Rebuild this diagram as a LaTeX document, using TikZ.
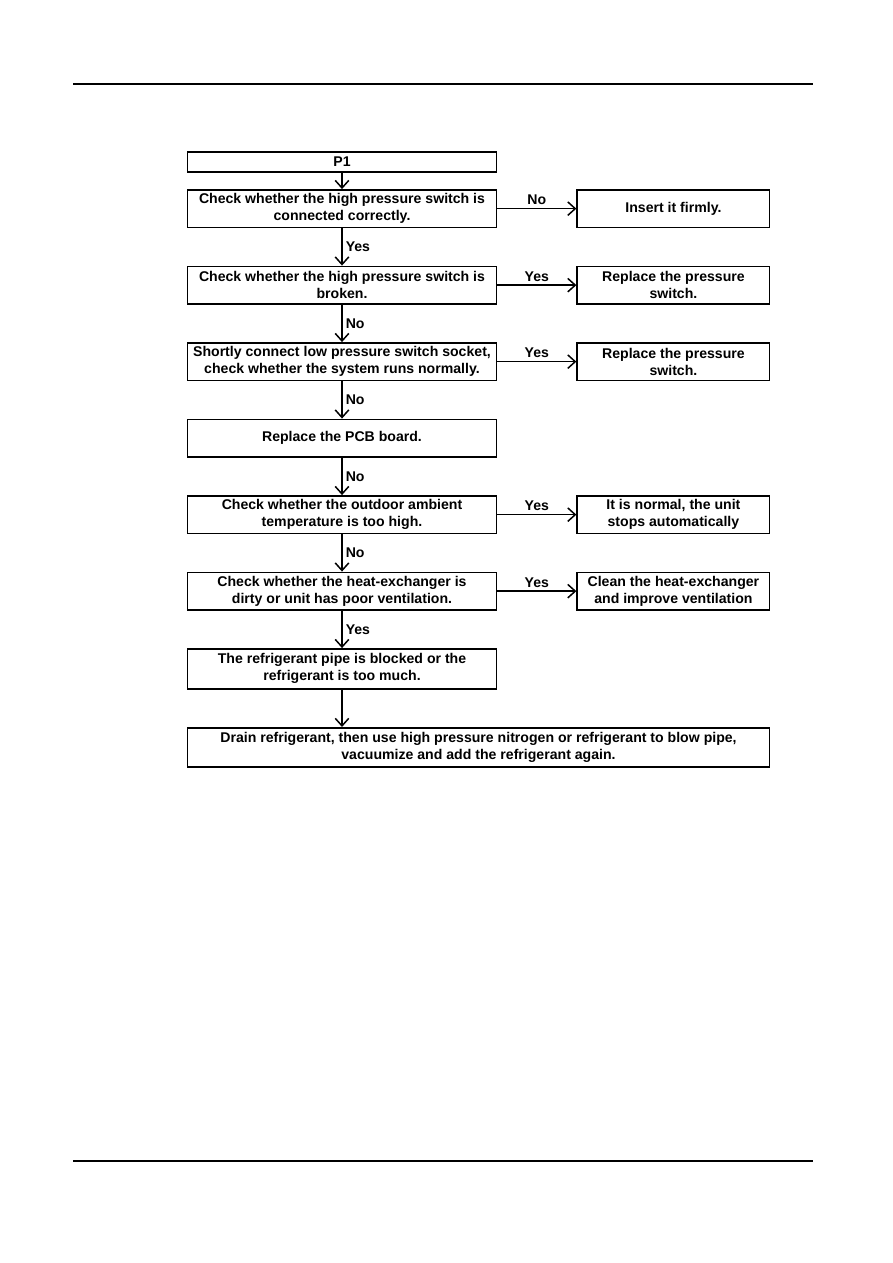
\documentclass[tikz,border=0pt]{standalone}
\usepackage{fontspec}
\setmainfont{Liberation Sans}
\usepackage{tikz}
\usetikzlibrary{arrows.meta,positioning}

\begin{document}
\begin{tikzpicture}[node distance=24.9pt, auto,
  block/.style={rectangle, draw, line width=1.1pt, minimum height=25pt, minimum width=206pt, inner sep=1pt, align=center, font=\bfseries\fontsize{9.4}{11.3}\selectfont},
  side/.style={block, minimum width=128.3pt},
  arrow/.style={-{Straight Barb[length=5pt,width=9pt]}, line width=1pt},
  lbl/.style={font=\bfseries\fontsize{9.4}{11.3}\selectfont, inner sep=2pt}]
\useasboundingbox (0,0) rectangle (595.3pt,-842pt);
\draw[line width=0.7pt] (48.7pt,-56pt) -- (542pt,-56pt);
\draw[line width=1.4pt] (48.7pt,-774pt) -- (542pt,-774pt);
\node[block, minimum height=13pt] (p1) at (228pt,-108pt) {P1};
\node[block, below=11pt of p1] (b1) {Check whether the high pressure switch is\\ connected correctly.};
\node[block, below=of b1] (b2) {Check whether the high pressure switch is\\ broken.};
\node[block, below=of b2] (b3) {Shortly connect low pressure switch socket,\\ check whether the system runs normally.};
\node[block, below=of b3] (b4) {Replace the PCB board.};
\node[block, below=of b4] (b5) {Check whether the outdoor ambient\\ temperature is too high.};
\node[block, below=of b5] (b6) {Check whether the heat-exchanger is\\ dirty or unit has poor ventilation.};
\node[block, minimum height=26.6pt, below=of b6] (b7) {The refrigerant pipe is blocked or the\\ refrigerant is too much.};
\node[block, minimum width=388pt, minimum height=26.3pt, below right=24.9pt and 0pt of b7.south west] (b8) {Drain refrigerant, then use high pressure nitrogen or refrigerant to blow pipe,\\ vacuumize and add the refrigerant again.};
\node[side, right=52.7pt of b1] (r1) {Insert it firmly.};
\node[side, right=52.7pt of b2] (r2) {Replace the pressure\\ switch.};
\node[side, right=52.7pt of b3] (r3) {Replace the pressure\\ switch.};
\node[side, right=52.7pt of b5] (r5) {It is normal, the unit\\ stops automatically};
\node[side, right=52.7pt of b6] (r6) {Clean the heat-exchanger\\ and improve ventilation};
\draw[arrow] (p1) -- (b1);
\draw[arrow] (b1) -- node[lbl, right] {Yes} (b2); \draw[arrow] (b2) -- node[lbl, right] {No} (b3);
\draw[arrow] (b3) -- node[lbl, right] {No} (b4); \draw[arrow] (b4) -- node[lbl, right] {No} (b5);
\draw[arrow] (b5) -- node[lbl, right] {No} (b6); \draw[arrow] (b6) -- node[lbl, right] {Yes} (b7);
\draw[arrow] (b7) -- (b7 |- b8.north);
\draw[arrow] (b1) -- node[lbl, above] {No} (r1); \draw[arrow] (b2) -- node[lbl, above] {Yes} (r2);
\draw[arrow] (b3) -- node[lbl, above] {Yes} (r3); \draw[arrow] (b5) -- node[lbl, above] {Yes} (r5);
\draw[arrow] (b6) -- node[lbl, above] {Yes} (r6);
\end{tikzpicture}
\end{document}
